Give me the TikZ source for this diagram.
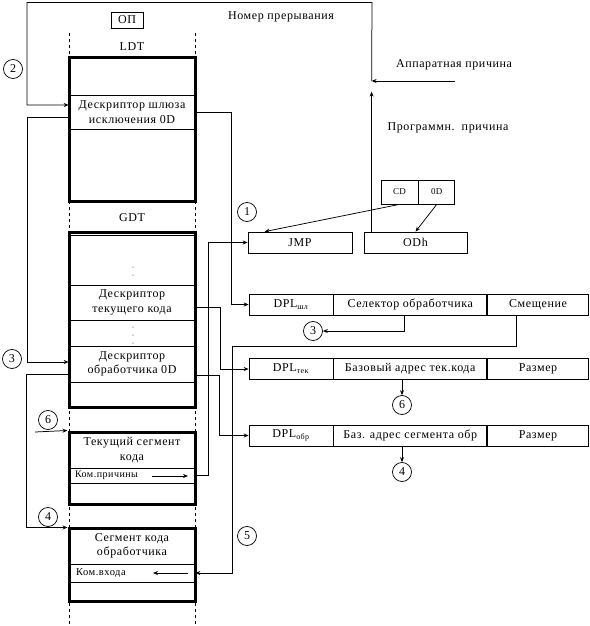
\documentclass[tikz,border=0pt]{standalone}
\usepackage{fontspec}
\setmainfont{Liberation Serif}[LetterSpace=5]
\usetikzlibrary{arrows.meta, positioning}

\begin{document}
\begin{tikzpicture}[
        x=1pt, y=-1pt,
        line width=0.75pt,
        font=\fontsize{12}{14.5}\selectfont,
        segBox/.style={
            rectangle, draw=black, line width=3pt, minimum width=126pt, inner sep=0pt
        },
        rowCell/.style={
            rectangle, draw=black, line width=0.75pt, minimum width=126pt, inner sep=0pt, align=center
        },
        cellBox/.style={
            rectangle, draw=black, minimum height=21pt, inner sep=0pt
        },
        numCircle/.style={
            circle, draw=black, minimum size=19pt, inner sep=0pt
        },
        arrow/.style={
            -{Stealth[length=5pt, width=4pt]}
        },
        dashLine/.style={
            dashed
        }
    ]
        \useasboundingbox (0,0) rectangle (589,626);

        % Memory column
        \draw [dashLine] (69,33) -- (69,626);
        \draw [dashLine] (195,33) -- (195,626);
        \node (opBox) [draw, minimum width=32pt, minimum height=16pt, inner sep=1pt] at (127,20) {ОП};
        \node (intNum) at (281,17) {Номер прерывания};

        \node (ldtLabel) at (132,47) {LDT};
        \node (ldtBox) [segBox, minimum height=143pt] at (132,129.5) {};
        \node (ldtGate) [rowCell, minimum height=34pt] at (132,112) {Дескриптор шлюза\\исключения 0D};

        \node (gdtLabel) at (132,218) {GDT};
        \node (gdtBox) [segBox, minimum height=175pt] at (132,319.5) {};
        \draw ([yshift=-5pt]gdtBox.north west) -- ([yshift=-5pt]gdtBox.north east);
        \node (gdtCur) [rowCell, minimum height=35pt] at (132,302.5) {Дескриптор\\текущего кода};
        \node (gdtObr) [rowCell, minimum height=36pt] at (132,364) {Дескриптор\\обработчика 0D};
        \foreach \y in {267,275,327,335,343}
            \fill (133,\y) circle (0.5pt);

        \node (curBox) [segBox, minimum height=72pt] at (132,468) {};
        \node (curTitle) [align=center] at (132,450) {Текущий сегмент\\кода};
        \node (curCmd) [rowCell, minimum height=15pt, text width=114pt, align=left, font=\fontsize{10}{11}\selectfont] at (132,475.5) {Ком.причины};

        \node (hndBox) [segBox, minimum height=73pt] at (132,564.5) {};
        \node (hndTitle) [align=center] at (132,546) {Сегмент кода\\обработчика};
        \node (hndCmd) [rowCell, minimum height=18pt, text width=112pt, align=left, font=\fontsize{10.5}{11}\selectfont] at (132,573) {Ком.входа};

        % Command and descriptors
        \node (hwText) at (454,65) {Аппаратная причина};
        \node (swText) at (448,128) {Программн.\ \ причина};
        \node (cdCell) [cellBox, minimum width=37pt, minimum height=24pt, font=\small] at (399.5,192) {CD};
        \node (odCell) [cellBox, minimum width=36pt, minimum height=24pt, font=\small, right=0pt of cdCell] {0D};
        \node (jmp) [cellBox, minimum width=104pt] at (300,242.5) {JMP};
        \node (odh) [cellBox, minimum width=103pt] at (415.5,242.5) {ODh};

        \node (gateDpl) [cellBox, minimum width=84pt] at (291,304.5) {DPL\textsubscript{шл}};
        \node (gateSel) [cellBox, minimum width=153pt, right=0pt of gateDpl] {Селектор обработчика};
        \node (gateOff) [cellBox, minimum width=101pt, right=0pt of gateSel] {Смещение};
        \node (tekDpl) [cellBox, minimum width=84pt] at (291,369) {DPL\textsubscript{тек}};
        \node (tekBase) [cellBox, minimum width=153pt, right=0pt of tekDpl] {Базовый адрес тек.кода};
        \node (tekSize) [cellBox, minimum width=101pt, right=0pt of tekBase] {Размер};
        \node (obrDpl) [cellBox, minimum width=84pt] at (291,435.5) {DPL\textsubscript{обр}};
        \node (obrBase) [cellBox, minimum width=153pt, right=0pt of obrDpl] {Баз. адрес сегмента обр};
        \node (obrSize) [cellBox, minimum width=101pt, right=0pt of obrBase] {Размер};

        % Step numbers
        \node (numTwo) [numCircle] at (13,69) {2};
        \node (numThree) [numCircle] at (12,359) {3};
        \node (numSix) [numCircle] at (48,420) {6};
        \node (numFour) [numCircle] at (48,517) {4};
        \node (numOne) [numCircle] at (247,212) {1};
        \node (numFive) [numCircle] at (247,536) {5};
        \node (numThreeB) [numCircle] at (313,331) {3};
        \node (numSixB) [numCircle] at (402,405) {6};
        \node (numFourB) [numCircle] at (402,472) {4};

        % Free ends
        \coordinate (progUp) at ([xshift=8pt]odh.north west);
        \coordinate (hwCause) at (455,81);
        \coordinate (topRight) at (372,2.5);
        \coordinate (topLeft) at (27,2.5);
        \coordinate (sixIn) at (35,432);
        \coordinate (causeFrom) at (152,476);
        \coordinate (causeTo) at (188,476);
        \coordinate (entryFrom) at (188,573);
        \coordinate (entryTo) at (153,573);

        % Arrows
        \draw [arrow] (progUp) -- ++(0,-140);
        \draw [arrow] (hwCause) -- (hwCause -| progUp);
        \draw [arrow] (progUp |- hwCause) -- (topRight) -- (topLeft) |- ([yshift=7pt]ldtGate.west);
        \draw [arrow] (cdCell.south) -- ([xshift=17pt]jmp.north west);
        \draw [arrow] (odCell.south) -- (odh.north);
        \draw [arrow] (ldtGate.east) -| ([xshift=-17pt]gateDpl.west) -- (gateDpl.west);
        \draw [arrow] (curCmd.east) -- ++(13,0) |- (jmp.west);
        \draw [arrow] ([yshift=-5pt]gdtCur.east) -| ([xshift=-28pt]tekDpl.west) -- (tekDpl.west);
        \draw [arrow] ([yshift=-11pt]gdtObr.east) -| ([xshift=-29pt]obrDpl.west) -- (obrDpl.west);
        \draw [arrow] ([xshift=-6pt]gateSel.south) |- (numThreeB.east);
        \draw [arrow] ([xshift=-22pt]gateOff.south) -- ++(0,31) -| ([xshift=37pt]hndCmd.east) -- (hndCmd.east);
        \draw [arrow] (tekBase.south -| numSixB) -- (numSixB.north);
        \draw [arrow] (obrBase.south -| numFourB) -- (numFourB.north);
        \draw [arrow] ([yshift=-5pt]ldtGate.west) -- ++(-41,0) |- ([yshift=2pt]gdtObr.west);
        \draw [arrow] ([yshift=-10pt]gdtObr.west) -- ++(-42,0) |- ([yshift=-1pt]hndBox.north west);
        \draw [arrow] (sixIn) -- (curBox.north west);
        \draw [arrow] (causeFrom) -- (causeTo);
        \draw [arrow] (entryFrom) -- (entryTo);
    \end{tikzpicture}
\end{document}
